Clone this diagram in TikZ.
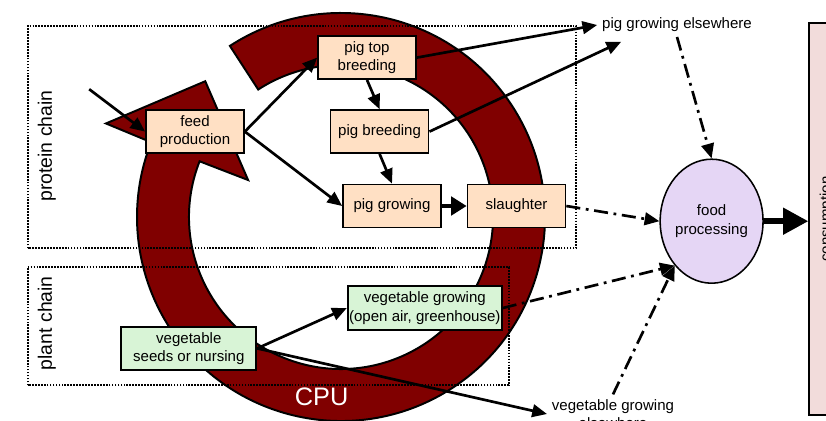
\documentclass[tikz,border=0pt]{standalone}
\usepackage{fontspec}
\setmainfont{Liberation Sans}
\usepackage{tikz}
\usetikzlibrary{arrows.meta,positioning,calc,shapes.geometric}
\definecolor{cpured}{RGB}{128,0,0}
\definecolor{pigfill}{RGB}{255,224,196}
\definecolor{vegfill}{RGB}{216,244,214}
\definecolor{foodfill}{RGB}{229,214,245}
\definecolor{consfill}{RGB}{242,220,219}

\begin{document}
\begin{tikzpicture}[font=\fontsize{10.7}{13}\selectfont,
  box/.style={draw,line width=1.2pt,fill=#1,minimum width=2.45cm,minimum height=1.075cm,align=center,inner sep=1pt},
  flow/.style={-{Triangle[length=10.5pt,width=9pt]},line width=1.9pt},
  dashflow/.style={flow,dash pattern=on 10pt off 4pt on 2pt off 4pt},
  chainframe/.style={line width=1.5pt,dash pattern=on 1.2pt off 0.9pt},
  chainlabel/.style={rotate=90,font=\fontsize{13.8}{16}\selectfont}
]
  \useasboundingbox (0,0) rectangle (20.65,10.5);
  % circular CPU arrow
  \coordinate (ringc) at (8.525,5.075);
  \draw[line width=1.4pt,fill=cpured] ($(ringc)+(123:5.1)$) arc[start angle=123,end angle=-201.5,radius=5.1]
    -- ($(ringc)+(158.3:6.325)$) -- ($(ringc)+(135:4.8)$) -- ($(ringc)+(158.3:2.5)$)
    -- ($(ringc)+(158.5:3.8)$) arc[start angle=-201.5,end angle=123,radius=3.8] -- cycle;
  \node[text=white,font=\fontsize{18}{20}\selectfont] (cpu) at (8.04,0.58) {CPU};
  % chain frames
  \draw[chainframe] (0.69,4.29) rectangle (14.4,9.85);
  \draw[chainframe] (0.69,0.87) rectangle (12.725,3.82);
  \node[chainlabel] (protein) at (1.17,6.85) {protein chain};
  \node[chainlabel] (plant) at (1.17,2.42) {plant chain};
  % protein chain
  \node[box=pigfill] (feed) at (4.875,7.21) {feed\\production};
  \node[box=pigfill] (pigtop) at (9.175,9.06) {pig top\\breeding};
  \node[box=pigfill] (pigbreed) at (9.49,7.21) {pig breeding};
  \node[box=pigfill] (piggrow) at (9.8,5.35) {pig growing};
  \node[box=pigfill, right=0.62cm of piggrow] (slaughter) {slaughter};
  \node (pigelse) at (16.925,9.875) {pig growing elsewhere};
  \coordinate (feedin) at (2.23,8.27);
  % plant chain
  \node[box=vegfill,minimum width=3.375cm] (vegseeds) at (4.72,1.79) {vegetable\\seeds or nursing};
  \node[box=vegfill,minimum width=3.85cm,minimum height=1.1cm] (vegopen) at (10.62,2.8) {vegetable growing\\(open air, greenhouse)};
  \node[align=center] (vegelse) at (15.325,0.15) {vegetable growing\\elsewhere};
  % processing and consumption
  \node[ellipse,draw,line width=1.1pt,fill=foodfill,minimum width=2.5cm,minimum height=3.1cm,inner sep=0pt,align=center] (food) at (17.79,4.97) {food\\processing};
  \node[draw,line width=1.2pt,fill=consfill,rotate=90,minimum width=9.8cm,minimum height=0.875cm] (consumption) at (20.67,5.02) {consumption};
  % connectors
  \draw[flow] (feedin) -- (feed.west);
  \draw[flow] (feed.east) -- (pigtop.west);
  \draw[flow] (feed.east) -- (piggrow.west);
  \draw[flow] (pigtop.south) -- (pigbreed.north);
  \draw[flow] (pigbreed.south) -- (piggrow.north);
  \draw[flow,line width=2.8pt,-{Triangle[length=11pt,width=13pt]}] (piggrow) -- (slaughter);
  \draw[flow] (pigtop.east) -- (pigelse.west);
  \draw[flow] (pigbreed.east) -- ($(pigelse.south west)+(0.6,-0.12)$);
  \draw[flow] (vegseeds.east) -- (vegopen.west);
  \draw[flow] (vegseeds.east) -- (vegelse.west);
  \draw[dashflow] (slaughter.east) -- (food.west);
  \draw[dashflow] (pigelse.south) -- (food.north);
  \draw[dashflow] (vegopen.east) -- (food.south west);
  \draw[dashflow] (vegelse.north) -- (food.south west);
  \draw[-{Triangle[length=18pt,width=18pt]},line width=4.5pt] (food.east) -- (food.east -| consumption.north);
\end{tikzpicture}
\end{document}
